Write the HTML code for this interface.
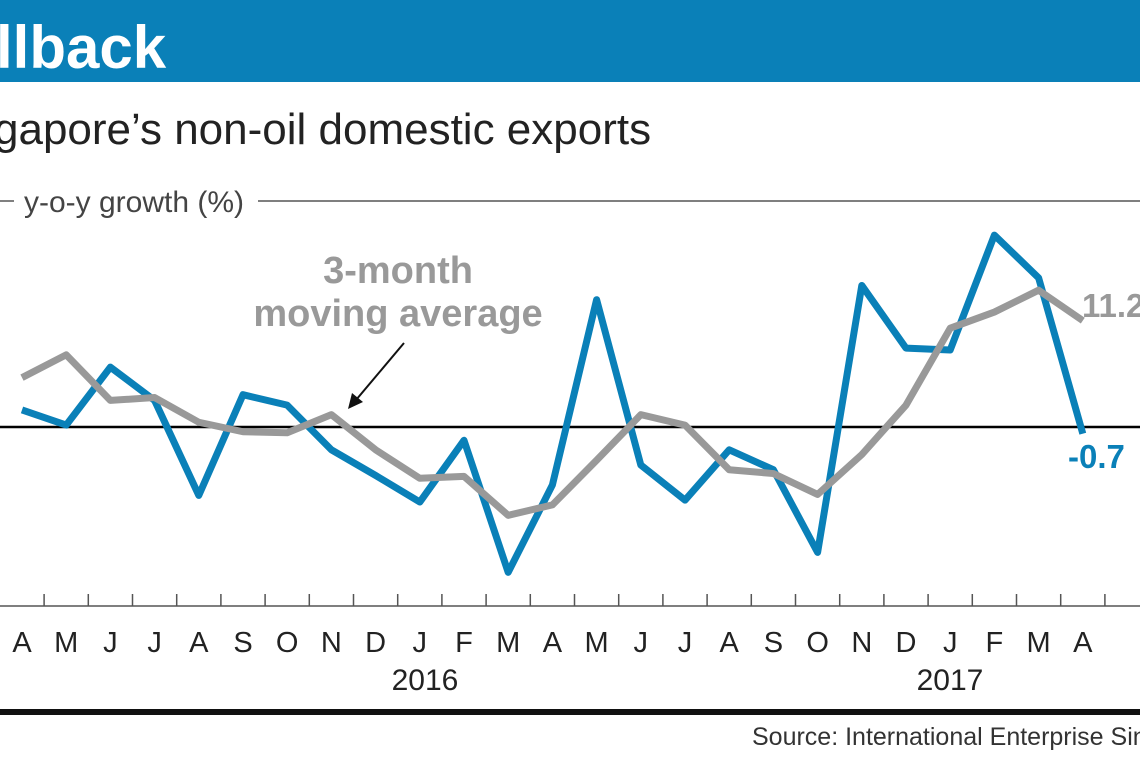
<!DOCTYPE html>
<html><head><meta charset="utf-8"><style>
body{margin:0;width:1140px;height:760px;overflow:hidden;background:#fff;font-family:"Liberation Sans",sans-serif}
</style></head><body>
<svg width="1140" height="760" xmlns="http://www.w3.org/2000/svg">
<rect x="0" y="0" width="1140" height="82" fill="#0a80b8"/>
<text x="-4" y="68" font-size="60" font-weight="bold" fill="#fff">llback</text>
<text x="-6" y="144" font-size="44" fill="#222">gapore’s non-oil domestic exports</text>
<line x1="0" y1="201" x2="14" y2="201" stroke="#555" stroke-width="1.5"/>
<line x1="258" y1="201" x2="1140" y2="201" stroke="#555" stroke-width="1.5"/>
<text x="24" y="212" font-size="30" fill="#444">y-o-y growth (%)</text>
<line x1="0" y1="427" x2="1140" y2="427" stroke="#000" stroke-width="2.5"/>
<line x1="0" y1="606" x2="1140" y2="606" stroke="#555" stroke-width="1.5"/>
<g id="ticks"></g><g id="labels"></g>
<text x="425" y="690" font-size="30" text-anchor="middle" fill="#222">2016</text>
<text x="950" y="690" font-size="30" text-anchor="middle" fill="#222">2017</text>
<text x="398" y="283" font-size="38" font-weight="bold" text-anchor="middle" fill="#999">3-month</text>
<text x="398" y="326" font-size="38" font-weight="bold" text-anchor="middle" fill="#999">moving average</text>
<line x1="404" y1="343" x2="356" y2="400" stroke="#111" stroke-width="2"/>
<polygon points="348,409 352,393 363,402" fill="#111"/>
<g id="series"></g>
<text x="1082" y="317" font-size="33" font-weight="bold" fill="#999">11.2</text>
<text x="1068" y="468" font-size="33" font-weight="bold" fill="#0a80b8">-0.7</text>
<rect x="0" y="709" width="1140" height="6" fill="#111"/>
<text x="752" y="745" font-size="25" fill="#333">Source: International Enterprise Singapore</text>
</svg>
<script>
const months=["A","M","J","J","A","S","O","N","D","J","F","M","A","M","J","J","A","S","O","N","D","J","F","M","A"];
const nodx=[1.8,0.2,6.3,2.8,-7.2,3.4,2.3,-2.4,-5.1,-7.9,-1.4,-15.3,-6.1,13.4,-4.0,-7.7,-2.4,-4.5,-13.2,14.9,8.3,8.1,20.2,15.7,-0.7];
const avg3=[5.2,7.6,2.8,3.1,0.5,-0.5,-0.6,1.3,-2.4,-5.4,-5.2,-9.3,-8.2,-3.5,1.3,0.2,-4.5,-4.9,-7.1,-2.9,2.3,10.4,12.1,14.4,11.2];
const NS="http://www.w3.org/2000/svg";
const xs=i=>22+i*44.2, ys=v=>427-v*9.5;
const tk=document.getElementById('ticks'),lb=document.getElementById('labels'),sr=document.getElementById('series');
months.forEach((m,i)=>{
 const t=document.createElementNS(NS,'line');
 t.setAttribute('x1',xs(i)+22.1);t.setAttribute('x2',xs(i)+22.1);t.setAttribute('y1',594);t.setAttribute('y2',606);
 t.setAttribute('stroke','#555');t.setAttribute('stroke-width','1.5');
 
 
 tk.appendChild(t);
 const l=document.createElementNS(NS,'text');
 l.setAttribute('x',xs(i));l.setAttribute('y',652);l.setAttribute('font-size','29');l.setAttribute('text-anchor','middle');l.setAttribute('fill','#222');
 l.textContent=m;
 
 
 lb.appendChild(l);
});
function line(d,c,n){
 const p=document.createElementNS(NS,'polyline');
 p.setAttribute('points',d.map((v,i)=>xs(i)+','+ys(v)).join(' '));
 p.setAttribute('fill','none');p.setAttribute('stroke',c);p.setAttribute('stroke-width','7');p.setAttribute('stroke-linejoin','round');
 
 
 sr.appendChild(p);
}
line(nodx,'#0a80b8','nodx-line');
line(avg3,'#999999','moving-average-line');
</script>
</body></html>
